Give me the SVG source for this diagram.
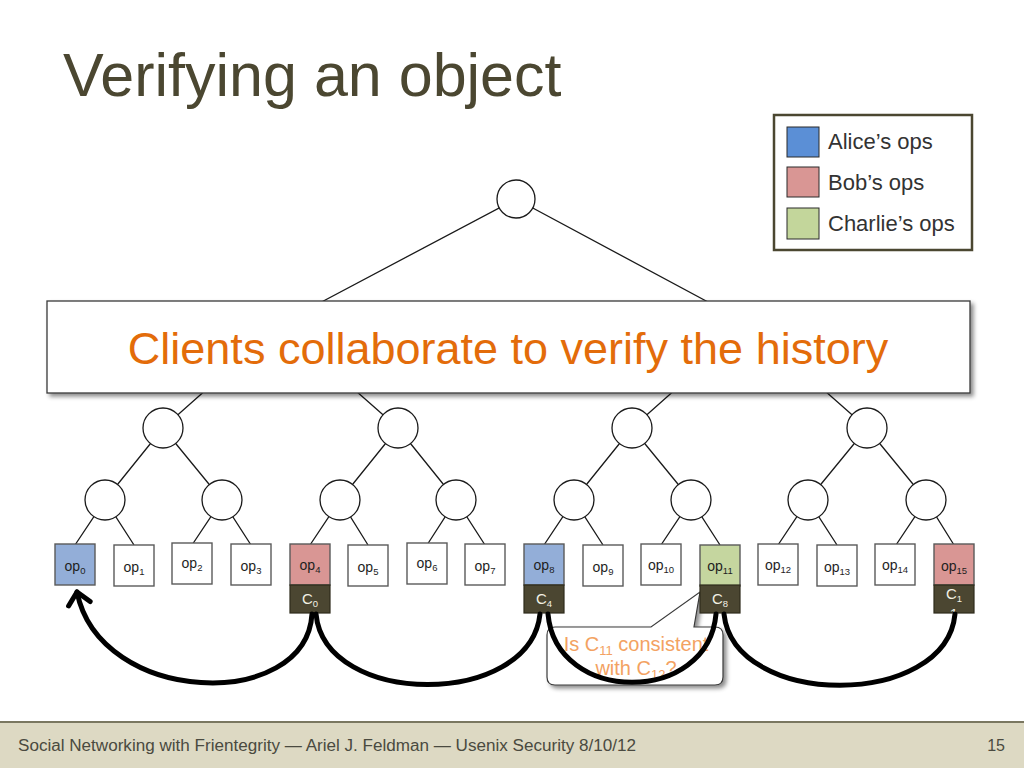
<svg xmlns="http://www.w3.org/2000/svg" width="1024" height="768" viewBox="0 0 1024 768">
<defs>
<style>
.edge{stroke:#1a1a1a;stroke-width:1.3;fill:none}
.circ{fill:#fff;stroke:#1a1a1a;stroke-width:1.3}
.leaf{stroke:#5a5a5a;stroke-width:1.4}
.w{fill:#fff}
.blue{fill:#93aed8}
.pink{fill:#d99694}
.green{fill:#c5d69f}
.cbox{fill:#4b4631;stroke:#2e2b1c;stroke-width:1.2}
.lbl{font-family:"Liberation Sans",Arial,sans-serif;font-size:14px;fill:#1e1e1e;text-anchor:middle}
.clbl{font-family:"Liberation Sans",Arial,sans-serif;font-size:15px;fill:#f2f0e4;text-anchor:middle}
.sub{font-size:9.5px}
.arc{stroke:#000;stroke-width:5;fill:none;stroke-linecap:round}
.leg{font-family:"Liberation Sans",Arial,sans-serif;font-size:22px;fill:#333}
.co{font-family:"Liberation Sans",Arial,sans-serif;font-size:20px;fill:#f3a262;text-anchor:middle}
</style>
<filter id="sh" x="-5%" y="-20%" width="115%" height="150%">
<feDropShadow dx="3" dy="3" stdDeviation="2" flood-color="#000" flood-opacity="0.45"/>
</filter>
<marker id="arrow" markerUnits="userSpaceOnUse" markerWidth="30" markerHeight="30" refX="15" refY="15" orient="auto">
<path d="M3 4 L15 15 L3 26" fill="none" stroke="#000" stroke-width="5" stroke-linecap="round" stroke-linejoin="round"/>
</marker>
<clipPath id="c15"><rect x="934" y="585" width="40" height="28"/></clipPath>
</defs>
<rect width="1024" height="768" fill="#fff"/>

<text x="63" y="96" font-family="Liberation Sans,Arial,sans-serif" font-size="61" fill="#4b4731">Verifying an object</text>

<g id="connectors">
<path class="edge" d="M516 199 L280 324 M516 199 L749 324"/>
<path class="edge" d="M280 324 L163 428 M280 324 L398 428 M749 324 L632 428 M749 324 L867 428"/>
<path class="edge" d="M163 428 L105 500 M163 428 L222 500 M398 428 L340 500 M398 428 L456 500 M632 428 L574 500 M632 428 L691 500 M867 428 L808 500 M867 428 L926 500"/>
<path class="edge" d="M105 500 L75 545 M105 500 L134 545 M222 500 L192 545 M222 500 L251 545 M340 500 L310 545 M340 500 L368 545 M456 500 L427 545 M456 500 L485 545 M574 500 L544 545 M574 500 L603 545 M691 500 L661 545 M691 500 L720 545 M808 500 L778 545 M808 500 L837 545 M926 500 L896 545 M926 500 L954 545"/>
</g>

<g id="root"><circle class="circ" cx="516" cy="199" r="19"/></g>
<g id="l2a"><circle class="circ" cx="163" cy="428" r="20"/></g>
<g id="l2b"><circle class="circ" cx="398" cy="428" r="20"/></g>
<g id="l2c"><circle class="circ" cx="632" cy="428" r="20"/></g>
<g id="l2d"><circle class="circ" cx="867" cy="428" r="20"/></g>
<g id="l3a"><circle class="circ" cx="105" cy="500" r="20"/></g>
<g id="l3b"><circle class="circ" cx="222" cy="500" r="20"/></g>
<g id="l3c"><circle class="circ" cx="340" cy="500" r="20"/></g>
<g id="l3d"><circle class="circ" cx="456" cy="500" r="20"/></g>
<g id="l3e"><circle class="circ" cx="574" cy="500" r="20"/></g>
<g id="l3f"><circle class="circ" cx="691" cy="500" r="20"/></g>
<g id="l3g"><circle class="circ" cx="808" cy="500" r="20"/></g>
<g id="l3h"><circle class="circ" cx="926" cy="500" r="20"/></g>

<g id="banner">
<rect x="47" y="301" width="923" height="92" fill="#fff" stroke="#3a3a3a" stroke-width="1.3" filter="url(#sh)"/>
<text x="508" y="364" text-anchor="middle" font-family="Liberation Sans,Arial,sans-serif" font-size="45" fill="#e36c0a">Clients collaborate to verify the history</text>
</g>

<g id="callout">
<path d="M555 627 L651 627 L700 592 L694 627 L715 627 Q723 627 723 635 L723 677 Q723 685 715 685 L555 685 Q547 685 547 677 L547 635 Q547 627 555 627 Z" fill="#fff" stroke="#3a3a3a" stroke-width="1.2" filter="url(#sh)"/>
<text class="co" x="636" y="651">Is C<tspan font-size="13" dy="4">11</tspan><tspan dy="-4"> consistent</tspan></text>
<text class="co" x="636" y="675">with C<tspan font-size="13" dy="4">12</tspan><tspan dy="-4">?</tspan></text>
</g>

<g id="op0"><rect class="leaf blue" x="55" y="544" width="40" height="41"/><text class="lbl" x="75" y="571">op<tspan class="sub" dy="3">0</tspan></text></g>
<g id="op1"><rect class="leaf w" x="114" y="545" width="40" height="41"/><text class="lbl" x="134" y="572">op<tspan class="sub" dy="3">1</tspan></text></g>
<g id="op2"><rect class="leaf w" x="172" y="543" width="40" height="41"/><text class="lbl" x="192" y="568">op<tspan class="sub" dy="3">2</tspan></text></g>
<g id="op3"><rect class="leaf w" x="231" y="544" width="40" height="41"/><text class="lbl" x="251" y="571">op<tspan class="sub" dy="3">3</tspan></text></g>
<g id="op4"><rect class="leaf pink" x="290" y="544" width="40" height="41"/><text class="lbl" x="310" y="570">op<tspan class="sub" dy="3">4</tspan></text>
<rect class="cbox" x="290" y="585" width="40" height="28"/><text class="clbl" x="310" y="604">C<tspan class="sub" dy="3">0</tspan></text></g>
<g id="op5"><rect class="leaf w" x="348" y="545" width="40" height="41"/><text class="lbl" x="368" y="572">op<tspan class="sub" dy="3">5</tspan></text></g>
<g id="op6"><rect class="leaf w" x="407" y="543" width="40" height="41"/><text class="lbl" x="427" y="568">op<tspan class="sub" dy="3">6</tspan></text></g>
<g id="op7"><rect class="leaf w" x="465" y="544" width="40" height="41"/><text class="lbl" x="485" y="571">op<tspan class="sub" dy="3">7</tspan></text></g>
<g id="op8"><rect class="leaf blue" x="524" y="544" width="40" height="41"/><text class="lbl" x="544" y="570">op<tspan class="sub" dy="3">8</tspan></text>
<rect class="cbox" x="524" y="585" width="40" height="28"/><text class="clbl" x="544" y="604">C<tspan class="sub" dy="3">4</tspan></text></g>
<g id="op9"><rect class="leaf w" x="583" y="545" width="40" height="41"/><text class="lbl" x="603" y="572">op<tspan class="sub" dy="3">9</tspan></text></g>
<g id="op10"><rect class="leaf w" x="641" y="544" width="40" height="41"/><text class="lbl" x="661" y="570">op<tspan class="sub" dy="3">10</tspan></text></g>
<g id="op11"><rect class="leaf green" x="700" y="545" width="40" height="41"/><text class="lbl" x="720" y="571">op<tspan class="sub" dy="3">11</tspan></text>
<rect class="cbox" x="700" y="585" width="40" height="28"/><text class="clbl" x="720" y="604">C<tspan class="sub" dy="3">8</tspan></text></g>
<g id="op12"><rect class="leaf w" x="758" y="544" width="40" height="41"/><text class="lbl" x="778" y="570">op<tspan class="sub" dy="3">12</tspan></text></g>
<g id="op13"><rect class="leaf w" x="817" y="545" width="40" height="41"/><text class="lbl" x="837" y="572">op<tspan class="sub" dy="3">13</tspan></text></g>
<g id="op14"><rect class="leaf w" x="875" y="544" width="40" height="41"/><text class="lbl" x="895" y="570">op<tspan class="sub" dy="3">14</tspan></text></g>
<g id="op15"><rect class="leaf pink" x="934" y="544" width="40" height="41"/><text class="lbl" x="954" y="571">op<tspan class="sub" dy="3">15</tspan></text>
<rect class="cbox" x="934" y="585" width="40" height="28"/><text class="clbl" x="954" y="599">C<tspan class="sub" dy="3">1</tspan></text>
<text class="clbl" x="954" y="619" clip-path="url(#c15)">1</text></g>

<g id="arcs">
<path class="arc" d="M312 614 C306 712 100 706 77 592" marker-end="url(#arrow)"/>
<path class="arc" d="M316 614 C325 708 530 708 540 614"/>
<path class="arc" d="M548 614 C556 705 708 705 716 614"/>
<path class="arc" d="M724 614 C734 709 946 709 955 614"/>
</g>

<g id="legend">
<rect x="774" y="115" width="198" height="135" fill="#fff" stroke="#4b4731" stroke-width="2.5"/>
<rect x="787" y="127" width="32" height="30" fill="#5b8fd6" stroke="#2a2a2a" stroke-width="1"/>
<rect x="787" y="167" width="32" height="30" fill="#d99694" stroke="#2a2a2a" stroke-width="1"/>
<rect x="787" y="208" width="32" height="31" fill="#c3d69b" stroke="#2a2a2a" stroke-width="1"/>
<text class="leg" x="828" y="149">Alice’s ops</text>
<text class="leg" x="828" y="190">Bob’s ops</text>
<text class="leg" x="828" y="231">Charlie’s ops</text>
</g>

<g id="footer">
<rect x="0" y="722" width="1024" height="46" fill="#ddd9c3"/>
<line x1="0" y1="722" x2="1024" y2="722" stroke="#7a7760" stroke-width="2"/>
<text x="18" y="751" font-family="Liberation Sans,Arial,sans-serif" font-size="16" fill="#4a4a40" textLength="618" lengthAdjust="spacingAndGlyphs">Social Networking with Frientegrity — Ariel J. Feldman — Usenix Security 8/10/12</text>
<text x="1005" y="751" text-anchor="end" font-family="Liberation Sans,Arial,sans-serif" font-size="16" fill="#4a4a40">15</text>
</g>
</svg>
